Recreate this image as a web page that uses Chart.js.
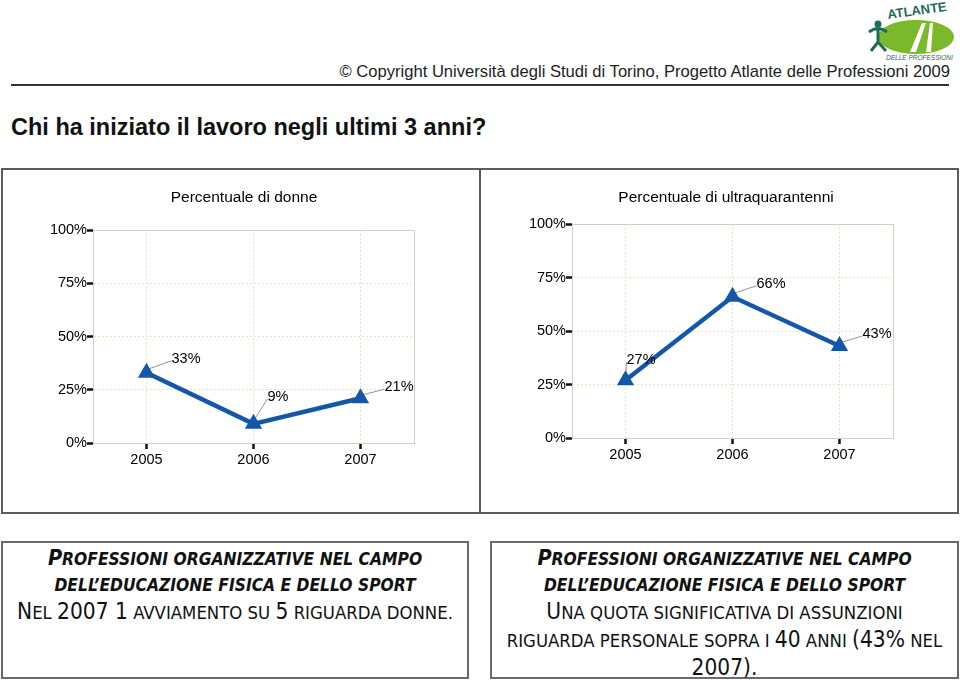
<!DOCTYPE html>
<html lang="it">
<head>
    <meta charset="UTF-8">
    <title>Chi ha iniziato il lavoro negli ultimi 3 anni?</title>
    <script src="https://cdn.jsdelivr.net/npm/chart.js"></script>
    <style>
        body {
            margin: 0;
            width: 960px;
            height: 680px;
            position: relative;
            overflow: hidden;
            background: #fff;
            font-family: "Liberation Sans", Arial, sans-serif;
            color: #111;
        }
        .abs { position: absolute; }
        #copyright {
            right: 10px;
            top: 62px;
            font-size: 16.6px;
            color: #222;
            white-space: nowrap;
        }
        #rule {
            left: 11px;
            top: 84px;
            width: 938px;
            border-top: 2px solid #333;
        }
        h1 {
            margin: 0;
            left: 11px;
            top: 114px;
            font-size: 23.5px;
            font-weight: bold;
            white-space: nowrap;
        }
        .panel {
            box-sizing: border-box;
            border: 2px solid #5a5a5a;
        }
        .note {
            box-sizing: border-box;
            border: 2px solid #6a6a6a;
            text-align: center;
            padding-top: 2px;
            font-family: "DejaVu Sans Condensed", "DejaVu Sans", sans-serif;
            font-stretch: condensed;
            font-size: 18.4px;
            line-height: 26px;
            color: #111;
        }
        .note .b { font-size: 22.5px; }
        .note .h { font-weight: bold; font-style: italic; font-size: 17.3px; }
        .note .h .b { font-size: 21.5px; }
        .note div { white-space: nowrap; }
    </style>
</head>
<body>
    <!-- logo -->
    <svg class="abs" style="left:864px;top:2px" width="95" height="60" viewBox="0 0 95 60">
        <ellipse cx="52" cy="35" rx="38" ry="17" fill="#7ab929"/>
        <path d="M46 50 L58 21 L62 21 L52 50 Z" fill="#fff"/>
        <path d="M62 50 L66 21 L69 21 L67 50 Z" fill="#fff"/>
        <circle cx="14" cy="22" r="3.5" fill="#1e6b5a"/>
        <path d="M5 30 Q14 23 23 30 M14 27 L14 40 M7 49 L14 40 L22 49" stroke="#1e6b5a" stroke-width="3" fill="none"/>
        <text x="24" y="17" font-family="Liberation Sans" font-size="13" font-weight="bold" fill="#1e6b5a" transform="rotate(-8 24 17)">ATLANTE</text>
        <text x="22" y="58" font-family="Liberation Sans" font-size="6.5" font-style="italic" fill="#1e6b5a">DELLE PROFESSIONI</text>
    </svg>
    <div id="copyright" class="abs">© Copyright Università degli Studi di Torino, Progetto Atlante delle Professioni 2009</div>
    <div id="rule" class="abs"></div>
    <h1 class="abs">Chi ha iniziato il lavoro negli ultimi 3 anni?</h1>

    <div class="abs panel" style="left:1px;top:168px;width:480px;height:346px"></div>
    <div class="abs panel" style="left:479px;top:168px;width:480px;height:346px"></div>
    <canvas id="chartDonne" class="abs" style="left:2px;top:170px" width="477" height="341"></canvas>
    <canvas id="chartOver40" class="abs" style="left:482px;top:170px" width="475" height="341"></canvas>

    <div class="abs note" style="left:1px;top:541px;width:468px;height:138px">
        <div class="h"><span class="b">P</span>ROFESSIONI ORGANIZZATIVE NEL CAMPO</div>
        <div class="h">DELL’EDUCAZIONE FISICA E DELLO SPORT</div>
        <div><span class="b">N</span>EL <span class="b">2007 1</span> AVVIAMENTO SU <span class="b">5</span> RIGUARDA DONNE.</div>
    </div>
    <div class="abs note" style="left:490px;top:541px;width:469px;height:138px">
        <div class="h"><span class="b">P</span>ROFESSIONI ORGANIZZATIVE NEL CAMPO</div>
        <div class="h">DELL’EDUCAZIONE FISICA E DELLO SPORT</div>
        <div><span class="b">U</span>NA QUOTA SIGNIFICATIVA DI ASSUNZIONI</div>
        <div>RIGUARDA PERSONALE SOPRA I <span class="b">40</span> ANNI <span class="b">(43%</span> NEL</div>
        <div><span class="b">2007).</span></div>
    </div>

    <script>
        // dati
        const anni = ['2005', '2006', '2007'];
        const percDonne = [33, 9, 21];
        const percOver40 = [27, 66, 43];
        const yTicks = [0, 25, 50, 75, 100];

        const BLU = '#1457a8';
        const GRIGLIA = '#e3e8c8';
        const CORNICE = '#d2d2c4';
        const FONT = '"Liberation Sans", Arial, sans-serif';

        // titolo del pannello, cornice dell'area grafico, etichette con linee guida
        const panelPlugin = {
            id: 'panel',
            beforeDatasetsDraw(chart, args, opts) {
                const ctx = chart.ctx;
                const a = chart.chartArea;
                ctx.save();
                ctx.strokeStyle = CORNICE;
                ctx.lineWidth = 1;
                ctx.strokeRect(a.left + 0.5, a.top + 0.5, a.right - a.left, a.bottom - a.top);
                // linee guida
                const meta = chart.getDatasetMeta(0);
                ctx.strokeStyle = '#777';
                ctx.lineWidth = 0.8;
                meta.data.forEach((pt, i) => {
                    const off = opts.offsets[i];
                    ctx.beginPath();
                    ctx.moveTo(pt.x, pt.y - 3);
                    ctx.lineTo(pt.x + off[0], pt.y + off[1] + 2);
                    ctx.stroke();
                });
                ctx.restore();
            },
            afterDatasetsDraw(chart, args, opts) {
                const ctx = chart.ctx;
                const meta = chart.getDatasetMeta(0);
                const values = chart.data.datasets[0].data;
                ctx.save();
                ctx.font = '14.5px ' + FONT;
                ctx.fillStyle = '#000';
                ctx.textBaseline = 'middle';
                ctx.textAlign = 'left';
                meta.data.forEach((pt, i) => {
                    const off = opts.offsets[i];
                    ctx.fillText(values[i] + '%', pt.x + off[0], pt.y + off[1]);
                });
                ctx.font = '15.5px ' + FONT;
                ctx.textAlign = 'center';
                ctx.fillText(opts.title, opts.titleX, opts.titleY);
                ctx.restore();
            }
        };

        function makeChart(id, values, title, titleX, padding, offsets) {
            return new Chart(document.getElementById(id), {
                type: 'line',
                data: {
                    labels: anni,
                    datasets: [{
                        data: values,
                        borderColor: BLU,
                        backgroundColor: BLU,
                        borderWidth: 4.5,
                        pointStyle: 'triangle',
                        pointRadius: 10,
                        pointBorderWidth: 0,
                        tension: 0
                    }]
                },
                options: {
                    responsive: false,
                    animation: false,
                    layout: { padding: padding },
                    plugins: {
                        legend: { display: false },
                        title: { display: false },
                        tooltip: { enabled: false },
                        panel: { title: title, titleX: titleX, titleY: 28, offsets: offsets }
                    },
                    scales: {
                        x: {
                            type: 'category',
                            offset: true,
                            afterFit: s => { s.height = 30; },
                            grid: {
                                color: GRIGLIA,
                                lineWidth: 1,
                                tickLength: 6,
                                tickColor: '#111',
                                tickWidth: 2.5
                            },
                            border: { color: CORNICE, width: 1, dash: [2, 2] },
                            ticks: {
                                padding: 2,
                                color: '#000',
                                font: { family: FONT, size: 14.5 }
                            }
                        },
                        y: {
                            min: 0,
                            max: 100,
                            afterFit: s => { s.width = 52; },
                            afterBuildTicks: s => { s.ticks = yTicks.map(v => ({ value: v })); },
                            grid: {
                                color: GRIGLIA,
                                lineWidth: 1,
                                tickLength: 6,
                                tickColor: '#111',
                                tickWidth: 2.5
                            },
                            border: { color: CORNICE, width: 1, dash: [2, 2] },
                            ticks: {
                                padding: 0,
                                color: '#000',
                                font: { family: FONT, size: 14.5 },
                                callback: v => v + '%'
                            }
                        }
                    }
                },
                plugins: [panelPlugin]
            });
        }

        makeChart('chartDonne', percDonne, 'Percentuale di donne', 242,
            { left: 39, right: 65, top: 60, bottom: 38 },
            [[25, -14], [14, -27], [24, -11]]);

        makeChart('chartOver40', percOver40, 'Percentuale di ultraquarantenni', 244,
            { left: 38, right: 64, top: 54, bottom: 43 },
            [[1, -20], [24, -13], [23, -12]]);
    </script>
</body>
</html>
